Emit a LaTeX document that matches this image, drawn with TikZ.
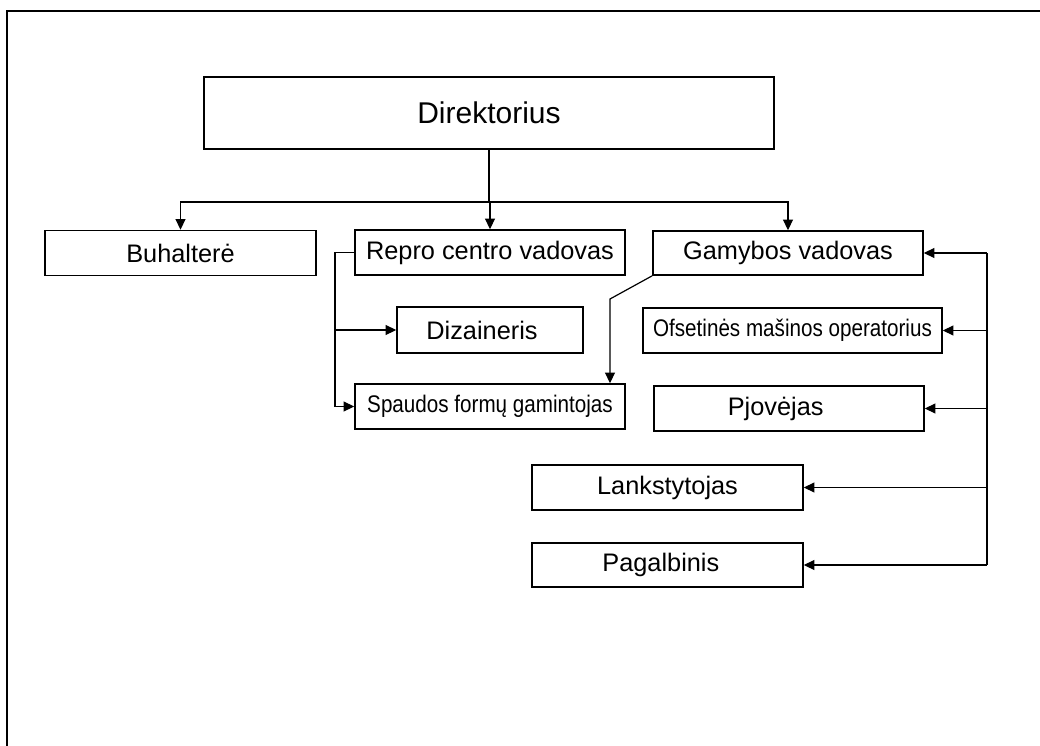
\documentclass[tikz,border=0pt]{standalone}
\usepackage{fontspec}
\setmainfont{Liberation Sans}
\newfontfamily\narrowfont{Liberation Sans}[FakeStretch=0.86]
\usetikzlibrary{arrows.meta, positioning, calc}

\newcommand{\labfont}{\fontsize{19}{22}\selectfont}
\newcommand{\dirfont}{\fontsize{22.5}{26}\selectfont}
\newcommand{\smallfont}{\narrowfont\fontsize{18}{21}\selectfont}

\tikzset{
  box/.style={draw, line width=1.2pt, inner sep=0pt, align=center, font=\labfont},
  wh/.style 2 args={minimum width=#1*0.75pt, minimum height=#2*0.75pt},
  arr/.style={line width=0.9pt, -{Triangle[length=8pt,width=7.5pt]}},
  ln/.style={line width=0.9pt}
}

\begin{document}
\begin{tikzpicture}[x=0.75pt, y=-0.75pt]
\useasboundingbox (0,0) rectangle (1040,746);
% rėmelis
\draw[line width=1.2pt] (7,746) -- (7,11) -- (1040,11);

% Direktorius
\node[box, wh={570}{72}, line width=1.7pt, font=\dirfont] (dir) at (489,113) {Direktorius};

% antras lygis
\node[box, wh={271}{45}] (buh) at (180.5,253) {Buhalterė};
\node[box, wh={270}{45}] (repro) at (490,252.5) {Repro centro vadovas};
\node[box, wh={270}{44}] (gam) at (788,253) {Gamybos vadovas};

% repro centro darbuotojai
\node[box, wh={186}{46}] (diz) at (490,330) {\hspace*{-12pt}Dizaineris};
\node[box, wh={270}{45}, font=\smallfont] (spa) at (490,406.5) {Spaudos formų gamintojas};

% gamybos darbuotojai
\node[box, wh={299}{45}, font=\smallfont] (ofs) at (792.5,330.5) {Ofsetinės mašinos operatorius};
\node[box, wh={270}{45}] (pjo) at (789,408.5) {\hspace*{-20pt}Pjovėjas};
\node[box, wh={271}{45}] (lan) at (667.5,487.5) {Lankstytojas};
\node[box, wh={271}{44}] (pag) at (667.5,565) {\hspace*{-10pt}Pagalbinis};

% jungtys nuo direktoriaus
\coordinate (split) at (489,202);
\draw[ln] (dir.south) -- (split);
\draw[arr] (split) -| (buh.north);
\draw[arr] (split) -| (gam.north);
\draw[arr] (split -| repro.north) -- (repro.north);

% jungtys nuo repro centro vadovo
\coordinate (rbus) at (335,252.5);
\draw[arr] (repro.west) -- (rbus) |- (spa.west);
\draw[arr] (rbus |- diz.west) -- (diz.west);

% gamybos vadovas -> spaudos formų gamintojas
\coordinate (gk) at (610,299);
\draw[arr] (gam.south west) -- (gk) -- (gk |- spa.north);

% dešinė magistralė
\coordinate (gbus) at (987,253);
\draw[arr] (gbus) -- (gam.east);
\draw[ln] (gbus) -- (gbus |- pag.east);
\foreach \n in {ofs, pjo, lan, pag}
  \draw[arr] (gbus |- \n.east) -- (\n.east);
\end{tikzpicture}
\end{document}
